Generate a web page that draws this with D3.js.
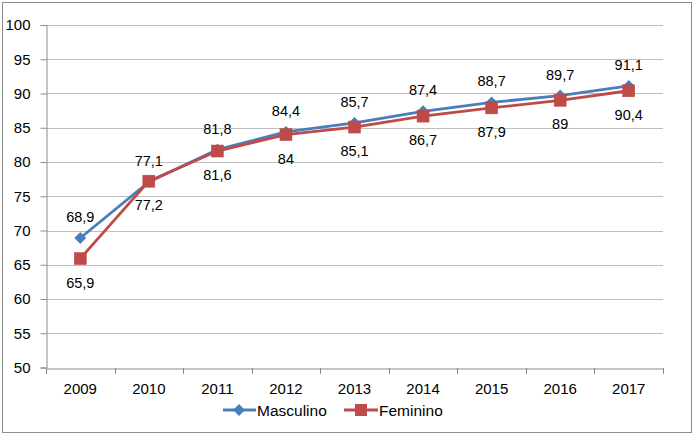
<!DOCTYPE html>
<html><head><meta charset="utf-8">
<script src="https://cdn.jsdelivr.net/npm/d3@7"></script>
<style>body{margin:0;background:#fff}svg{display:block;font-family:"Liberation Sans",Arial,sans-serif}</style>
</head><body><svg id="c" width="700" height="437"></svg>
<script>
const years = ["2009","2010","2011","2012","2013","2014","2015","2016","2017"];
const masculino = [68.9,77.1,81.8,84.4,85.7,87.4,88.7,89.7,91.1];
const feminino = [65.9,77.2,81.6,84,85.1,86.7,87.9,89,90.4];
const yTicks = [50,55,60,65,70,75,80,85,90,95,100];
const seriesNames = ["Masculino","Feminino"];

const svg = d3.select("#c");
svg.append("rect").attr("x",2.5).attr("y",2.5).attr("width",689).attr("height",430)
  .attr("fill","#fff").attr("stroke","#8c8c8c").attr("stroke-width",1);

const L=46, R=663, T=25, B=367.5;
const x = d3.scaleBand().domain(years).range([L,R]);
const y = d3.scaleLinear().domain([50,100]).range([B,T]);
const fmt = v => String(v).replace(".",",");

// gridlines
svg.append("g").selectAll("line").data(yTicks.filter(t=>t>50)).join("line")
  .attr("x1",L).attr("x2",R).attr("y1",d=>Math.round(y(d))+0.5).attr("y2",d=>Math.round(y(d))+0.5)
  .attr("stroke","#bfbfbf").attr("stroke-width",1);

// y axis
const ya = svg.append("g").attr("transform",`translate(${L+0.5},0)`)
  .call(d3.axisLeft(y).tickValues(yTicks).tickSize(6).tickPadding(10));
ya.select(".domain").attr("stroke","#8c8c8c");
ya.selectAll(".tick line").attr("stroke","#8c8c8c");
ya.selectAll("text").attr("font-size",15).attr("fill","#000").attr("font-family","Liberation Sans, Arial, sans-serif");

// x axis
const xa = svg.append("g").attr("transform",`translate(0,${Math.round(B)+0.5})`)
  .call(d3.axisBottom(x).tickSize(0).tickPadding(15));
xa.select(".domain").attr("stroke","#8c8c8c");
xa.selectAll("text").attr("font-size",15).attr("fill","#000").attr("font-family","Liberation Sans, Arial, sans-serif");
svg.append("g").selectAll("line").data(d3.range(years.length+1)).join("line")
  .attr("x1",i=>Math.round(L+i*x.step())+0.5).attr("x2",i=>Math.round(L+i*x.step())+0.5)
  .attr("y1",Math.round(B)).attr("y2",Math.round(B)+6).attr("stroke","#8c8c8c");

const cx = d => x(d)+x.bandwidth()/2;
const line = d3.line().x((d,i)=>cx(years[i])).y(d=>y(d));

const blue="#4a7ebb", red="#be4b48";
svg.append("path").datum(masculino).attr("d",line).attr("fill","none").attr("stroke",blue).attr("stroke-width",2.8);
svg.append("g").selectAll("path").data(masculino).join("path")
  .attr("d",d3.symbol(d3.symbolDiamond2,90)())
  .attr("transform",(d,i)=>`translate(${cx(years[i])},${y(d)})`).attr("fill",blue);

svg.append("path").datum(feminino).attr("d",line).attr("fill","none").attr("stroke",red).attr("stroke-width",2.8);
svg.append("g").selectAll("rect").data(feminino).join("rect")
  .attr("x",(d,i)=>cx(years[i])-6).attr("y",d=>y(d)-6).attr("width",12).attr("height",12)
  .attr("fill",red).attr("stroke","#b84643").attr("stroke-width",0.5);

// labels
svg.append("g").selectAll("text").data(masculino).join("text")
  .attr("x",(d,i)=>cx(years[i])).attr("y",d=>y(d)-16).attr("text-anchor","middle")
  .attr("font-size",14.5).attr("fill","#000").text(fmt);
svg.append("g").selectAll("text").data(feminino).join("text")
  .attr("x",(d,i)=>cx(years[i])).attr("y",d=>y(d)+29).attr("text-anchor","middle")
  .attr("font-size",14.5).attr("fill","#000").text(fmt);

// legend
const lg = svg.append("g").attr("font-size",15.5);
const ly = 410;
lg.append("line").attr("x1",223).attr("x2",256).attr("y1",ly).attr("y2",ly).attr("stroke",blue).attr("stroke-width",2.8);
lg.append("path").attr("d",d3.symbol(d3.symbolDiamond2,90)()).attr("transform",`translate(239,${ly})`).attr("fill",blue);
lg.append("text").attr("x",257).attr("y",ly+5.5).text(seriesNames[0]);
lg.append("line").attr("x1",344).attr("x2",378).attr("y1",ly).attr("y2",ly).attr("stroke",red).attr("stroke-width",2.8);
lg.append("rect").attr("x",355).attr("y",ly-6).attr("width",12).attr("height",12).attr("fill",red);
lg.append("text").attr("x",379).attr("y",ly+5.5).text(seriesNames[1]);
</script></body></html>
